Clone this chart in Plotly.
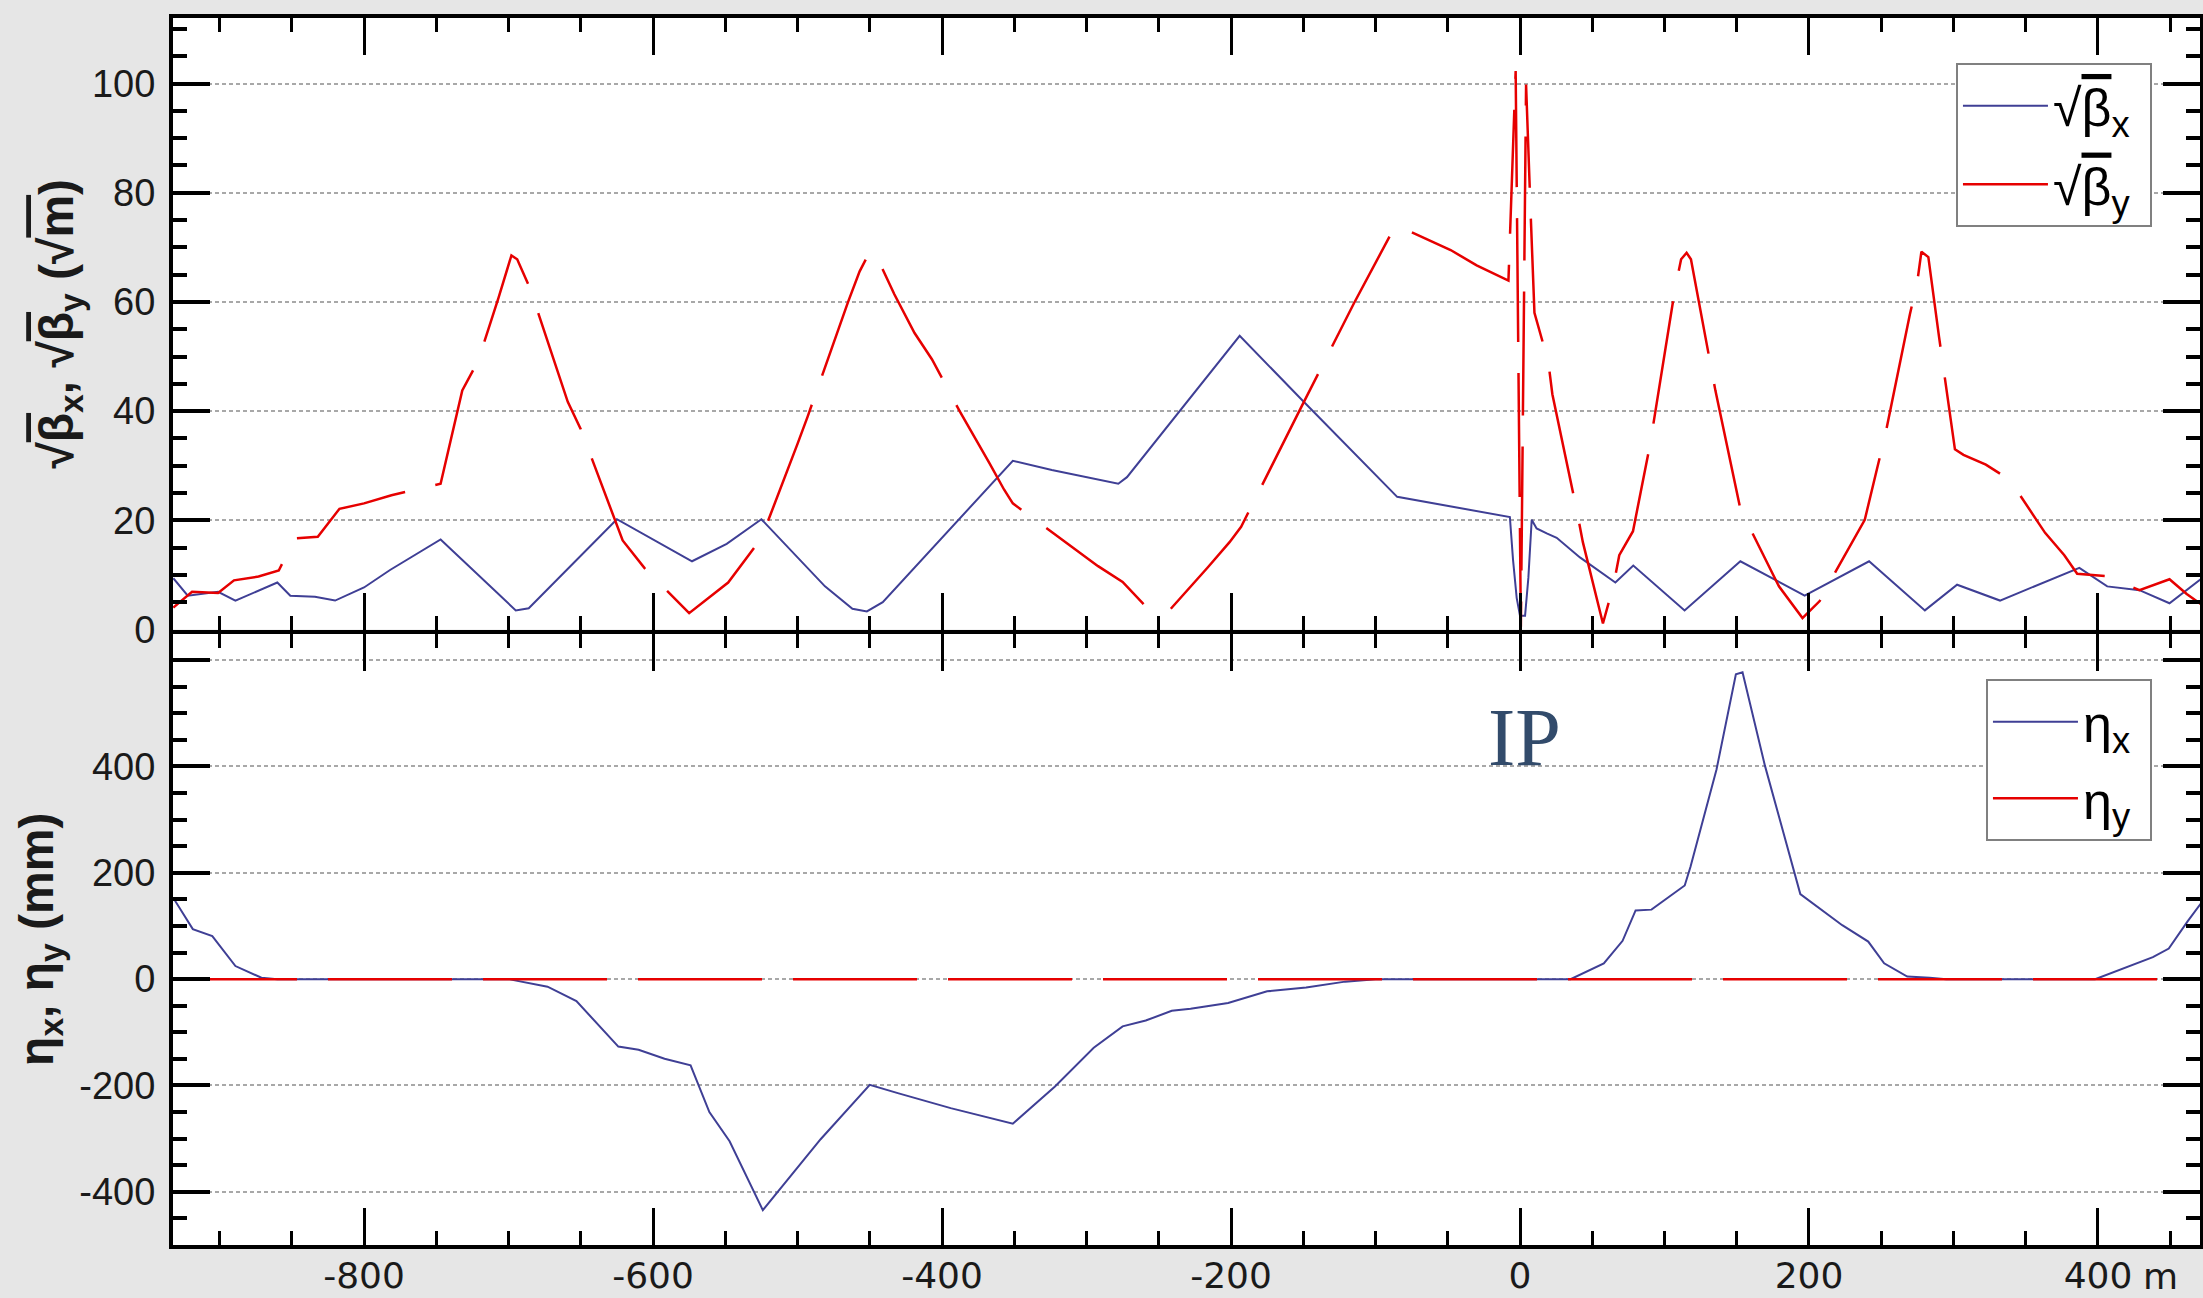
import plotly.graph_objects as go

# ---------------- data ----------------
# position s (m) and sqrt(beta_x) (sqrt(m))
s_bx = [-932, -922, -901, -889, -860, -851, -834, -820, -800, -782, -747, -695, -686,
        -625, -573, -549, -525, -481, -462, -452, -441, -351, -324, -299, -278, -272,
        -194, -150, -85, -7, -4.8, -2.3, 0, 3.5, 5.8, 8.1, 11.5, 18.5, 25.4, 41.5,
        66, 78.4, 113.9, 152.5, 197, 241.6, 280.2, 302.5, 332.2, 387.1, 406.4,
        428.7, 449.5, 472]
sqrt_beta_x = [9.4, 6.2, 6.9, 5.3, 8.6, 6.2, 6.0, 5.3, 7.7, 10.9, 16.5, 3.5, 3.9,
               20.2, 12.5, 15.7, 20.2, 7.9, 3.8, 3.3, 5.0, 30.9, 29.2, 27.9, 26.7, 27.9,
               53.8, 41.8, 24.3, 20.6, 12.7, 5.8, 2.5, 2.5, 9.5, 20.1, 18.5, 17.6, 16.8, 13.2,
               8.6, 11.7, 3.5, 12.5, 6.2, 12.5, 3.5, 8.2, 5.3, 11.3, 7.9,
               7.2, 4.8, 9.4]

# position s (m) and sqrt(beta_y) (sqrt(m))
s_by = [-932, -919, -901, -890, -873, -859, -848, -832, -817, -800, -781, -761, -747,
        -732, -721, -707, -698, -694, -685, -659, -650, -621, -606, -575, -548, -535,
        -525, -500, -493, -465, -457, -450, -445, -433, -419, -407, -388, -367, -357,
        -351, -292, -275, -260, -249, -244, -216, -201, -193, -162, -152, -115, -104,
        -86, -48, -30, -8, -3, 0.6, 4.2, 7.4, 10, 19.6, 22.4, 39.6, 43.5, 57.4, 64.8,
        68.7, 78.2, 90.1, 93.7, 107.3, 111.5, 115.3, 118.3, 131.1, 135.2, 152.5, 162,
        179.2, 195.5, 207.4, 216.3, 238.6, 247.5, 252.9, 269.8, 274.8, 277.8, 282.6,
        290, 293, 301, 306.9, 322.4, 339, 363.4, 376.7, 385.6, 405, 428.7, 449.5,
        461.4, 472]
sqrt_beta_y = [4.0, 6.9, 6.7, 9.0, 9.7, 10.8, 16.7, 17.0, 22.1, 23.1, 24.6, 25.8, 26.7,
               43.8, 49.2, 60.7, 68.5, 67.8, 62.4, 41.7, 36.7, 16.3, 11.3, 3.0, 8.6, 13.2,
               16.7, 34.0, 39.0, 60.0, 65.6, 69.2, 68.2, 61.4, 54.3, 49.5, 40.1, 30.4, 25.6,
               23.1, 11.6, 8.7, 4.5, 3.1, 3.1, 11.4, 16.0, 18.8, 35.3, 40.4, 59.7, 65.1,
               74.1, 69.5, 66.7, 63.9, 102.3, 0.5, 99.8, 76.0, 58.0, 49.0, 43.1, 21.4, 16.0, 1.1, 8.2,
               13.6, 18.0, 34.0, 40.1, 62.4, 67.8, 69.0, 67.8, 49.9, 43.8, 22.1, 17.0,
               7.9, 2.1, 5.2, 9.6, 20.1, 29.9, 35.8, 57.7, 63.4, 69.2, 68.2,
               53.6, 47.9, 33.0, 32.0, 30.2, 27.4, 17.7, 13.6, 10.2, 9.8, 7.2, 9.2,
               6.5, 4.5]

# position s (m) and dispersion eta_x (mm)
s_ex = [-932, -918.5, -905, -889, -871, -860, -700, -691, -673, -653, -624, -610, -592,
        -574, -561, -547, -524, -484, -450, -430, -394, -351, -322, -295, -275, -259,
        -241, -228, -202, -175, -148, -121, -100, 35, 58, 71, 80, 91, 114, 118, 136,
        149.4, 154, 169.5, 194, 223, 241, 252, 268, 283.5, 295, 398, 420, 438, 449,
        462, 472]
eta_x = [152.7, 94.1, 80.9, 24.6, 2.6, 0, 0, -4.7, -14.2, -41.3, -126.9, -132.8, -149.6,
         -162.1, -249.9, -304.8, -434.3, -301.1, -198.7, -214.8, -242.6, -271.9, -202.3,
         -129.1, -88.9, -77.9, -59.6, -55.9, -45.0, -23.0, -15.7, -4.7, 0, 0, 29.7, 72.1,
         129.2, 130.7, 176.1, 211.2, 394.2, 573.5, 577.2, 401.5, 160.0, 101.4, 70.7,
         29.7, 4.8, 2.6, 0, 0, 22.4, 41.4, 57.5, 108.7, 145.3]

# position s (m) and dispersion eta_y (mm)
s_ey = [-932.2, 470.6]
eta_y = [0, 0]

X_RANGE = [-932.2, 470.6]

BLUE = "#3f3f95"
RED = "#e60000"
SANS = "Liberation Sans"
NB = "\u00a0"

OV = "<span style='text-decoration:overline'>{}</span>"
name_bx = "√" + OV.format("β") + "<sub>x</sub>" + NB
name_by = "√" + OV.format("β") + "<sub>y</sub>" + NB

fig = go.Figure()
fig.add_trace(go.Scatter(x=s_bx, y=sqrt_beta_x, mode="lines", name=name_bx,
                         line=dict(color=BLUE, width=2), xaxis="x", yaxis="y",
                         legend="legend", legendgroup="a"))
fig.add_trace(go.Scatter(x=s_by, y=sqrt_beta_y, mode="lines", name=name_by,
                         line=dict(color=RED, width=2.5, dash="124px,31px"), xaxis="x", yaxis="y",
                         legend="legend", legendgroup="b"))
fig.add_trace(go.Scatter(x=s_ex, y=eta_x, mode="lines", name="η<sub>x</sub>" + NB,
                         line=dict(color=BLUE, width=2), xaxis="x2", yaxis="y2",
                         legend="legend2", legendgroup="c"))
fig.add_trace(go.Scatter(x=s_ey, y=eta_y, mode="lines", name="η<sub>y</sub>" + NB,
                         line=dict(color=RED, width=2.5, dash="124px,31px"), xaxis="x2", yaxis="y2",
                         legend="legend2", legendgroup="d"))

gap = 2 / 1227
common_x = dict(range=X_RANGE, showgrid=False, zeroline=False, showline=True,
                linecolor="black", linewidth=4, mirror="ticks", ticks="inside",
                ticklen=37, tickwidth=3, tickcolor="black", tick0=0, dtick=200,
                minor=dict(ticks="inside", ticklen=14, tickwidth=3, tickcolor="black",
                           tick0=0, dtick=50, showgrid=False),
                automargin=False)
common_y = dict(showgrid=True, gridcolor="#a8a8a8", gridwidth=1.5, griddash="4px,3px",
                zeroline=False, showline=True, linecolor="black", linewidth=4,
                mirror="ticks", ticks="inside", ticklen=37, tickwidth=4, tickcolor="black",
                tickfont=dict(family=SANS, size=38, color="#1a1a1a"),
                ticklabelstandoff=6, automargin=False)

title_top = (NB * 3 + "<b>√" + OV.format("β") + "<sub>x</sub>, √" + OV.format("β") +
             "<sub>y</sub> (√" + OV.format("m") + ")</b>")

fig.update_layout(
    width=2203, height=1298,
    margin=dict(l=173, r=3, t=18, b=53),
    paper_bgcolor="#e6e6e6", plot_bgcolor="white",
    xaxis=dict(**common_x, domain=[0, 1], anchor="y", showticklabels=False, matches="x2"),
    xaxis2=dict(**common_x, domain=[0, 1], anchor="y2", showticklabels=True,
                tickfont=dict(family="DejaVu Sans", size=36, color="#1a1a1a"),
                ticklabelstandoff=-4,
                tickmode="array", tickvals=[-800, -600, -400, -200, 0, 200, 400],
                ticktext=["-800", "-600", "-400", "-200", "0", "200", "400"]),
    yaxis=dict(**common_y, domain=[0.5 + gap, 1], range=[0, 112], tick0=0, dtick=20,
               minor=dict(ticks="inside", ticklen=14, tickwidth=4, tickcolor="black",
                          tick0=0, dtick=5, showgrid=False),
               title=dict(text=title_top,
                          font=dict(family=SANS, size=48, color="#1a1a1a"), standoff=4)),
    yaxis2=dict(**common_y, domain=[0, 0.5 - gap], range=[-500, 650],
                tickmode="array", tickvals=[-400, -200, 0, 200, 400, 600],
                ticktext=["-400", "-200", "0", "200", "400", " "],
                minor=dict(ticks="inside", ticklen=14, tickwidth=4, tickcolor="black",
                           tick0=0, dtick=50, showgrid=False),
                title=dict(text="<b>η<sub>x</sub>, η<sub>y</sub> (mm)</b>",
                           font=dict(family=SANS, size=48, color="#1a1a1a"), standoff=12)),
    legend=dict(x=0.9763, xanchor="right", y=0.963, yanchor="top", bgcolor="white",
                bordercolor="#808080", borderwidth=2, itemwidth=85, tracegroupgap=8,
                font=dict(family=SANS, size=52, color="black")),
    legend2=dict(x=0.9763, xanchor="right", y=0.461, yanchor="top", bgcolor="white",
                 bordercolor="#808080", borderwidth=2, itemwidth=85, tracegroupgap=6,
                 font=dict(family=SANS, size=52, color="black")),
    annotations=[
        dict(text="IP", x=3, y=455, xref="x2", yref="y2", showarrow=False,
             font=dict(family="Liberation Serif", size=82, color="#324b6b"),
             xanchor="center", yanchor="middle"),
        dict(text="m", x=443, y=-0.026, xref="x2", yref="paper", showarrow=False,
             font=dict(family="DejaVu Sans", size=36, color="#1a1a1a"),
             xanchor="center", yanchor="middle"),
    ],
    showlegend=True,
)

fig.write_html("out.html")
